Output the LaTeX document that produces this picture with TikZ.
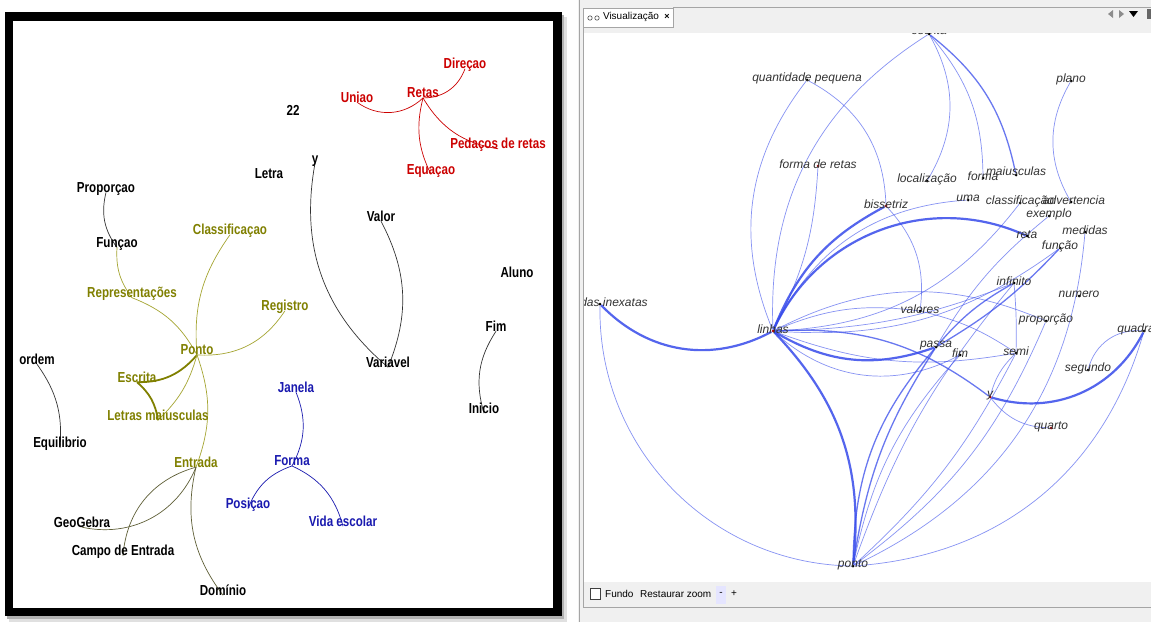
\documentclass[tikz,border=0pt]{standalone}
\usepackage{fontspec}
\setmainfont{Liberation Sans}
\newfontfamily\narrowsans[FakeStretch=0.8]{Liberation Sans}
\usepackage{tikz}
\usetikzlibrary{calc}

\definecolor{redtxt}{RGB}{204,0,0}
\definecolor{olivetxt}{RGB}{128,128,0}
\definecolor{oliveedge}{RGB}{165,165,50}
\definecolor{darkolive}{RGB}{95,95,55}
\definecolor{bluetxt}{RGB}{25,25,175}
\definecolor{edgeblue}{RGB}{55,75,235}
\definecolor{panelgray}{RGB}{240,240,240}
\definecolor{linegray}{RGB}{165,165,165}

\pgfdeclarelayer{bg}
\pgfdeclarelayer{edges}
\pgfsetlayers{bg,edges,main}

\begin{document}
\begin{tikzpicture}[x=1pt,y=-1pt,
            left-node/.style={font=\narrowsans\bfseries\fontsize{14.5}{16}\selectfont,inner sep=0pt},
            red-node/.style={left-node,text=redtxt},
            olive-node/.style={left-node,text=olivetxt},
            blue-node/.style={left-node,text=bluetxt},
            red-link/.style={draw=redtxt,line width=0.7pt},
            olive-link/.style={draw=oliveedge,line width=0.7pt},
            black-link/.style={draw=black!80,line width=0.7pt},
            blue-link/.style={draw=bluetxt,line width=0.7pt},
            dot-node/.style={circle,fill=black,inner sep=0pt,minimum size=3pt},
            red-dot/.style={dot-node,fill=red!70!black},
            word/.style={font=\itshape\fontsize{12}{14}\selectfont,text=black!80,inner sep=0pt,yshift=1.5pt},
            thin-edge/.style={draw=edgeblue,line width=0.7pt,opacity=0.6},
            mid-edge/.style={draw=edgeblue,line width=1.3pt,opacity=0.75},
            thick-edge/.style={draw=edgeblue,line width=2.2pt,opacity=0.85},
            ui-text/.style={font=\fontsize{10}{12}\selectfont,inner sep=0pt},
        ]
            \useasboundingbox (0,0) rectangle (1151,622);

            % backgrounds and frames
            \begin{pgfonlayer}{bg}
                \fill[white] (0,0) rectangle (1151,622);
                \fill[black!12] (9,17) rectangle (567,622);
                \fill[black!30] (7,15) rectangle (564,619);
                \fill[black] (5,12) rectangle (562,616);
                \fill[white] (13,21) rectangle (553,608);
                \fill[panelgray] (578,0) rectangle (1151,622);
                \fill[white] (583,33) rectangle (1151,582);
            \end{pgfonlayer}

            % left panel: word clusters
            \node[red-node] (direcao) at (465,65) {Direçao};
            \node[red-node] (uniao) at (357,97) {Uniao};
            \node[red-node] (retas) at (423,93) {Retas};
            \node[red-node] (pedacos) at (498,145) {Pedaços de retas};
            \node[red-node] (equacao) at (431,171) {Equaçao};

            \node[left-node] (n22) at (293,110) {22};
            \node[left-node] (yy) at (315,161) {y};
            \node[left-node] (letra) at (269,174) {Letra};
            \node[left-node] (valor) at (381,216) {Valor};
            \node[left-node] (variavel) at (388,362) {Variavel};
            \node[left-node] (aluno) at (517,272) {Aluno};
            \node[left-node] (fimL) at (496,326) {Fim};
            \node[left-node] (inicio) at (484,408) {Inicio};
            \node[left-node] (proporcaoL) at (106,189) {Proporçao};
            \node[left-node] (funcaoL) at (117,244) {Funçao};
            \node[left-node] (ordem) at (37,359) {ordem};
            \node[left-node] (equilibrio) at (60,444) {Equilibrio};
            \node[left-node] (geogebra) at (82,522) {GeoGebra};
            \node[left-node] (campo) at (123,552) {Campo de Entrada};
            \node[left-node] (dominio) at (223,590) {Domínio};

            \node[olive-node] (classif) at (230,231) {Classificaçao};
            \node[olive-node] (repres) at (132,294) {Representações};
            \node[olive-node] (registro) at (285,307) {Registro};
            \node[olive-node] (pontoL) at (197,350) {Ponto};
            \node[olive-node] (escritaL) at (137,377) {Escrita};
            \node[olive-node] (letras) at (158,415) {Letras maiusculas};
            \node[olive-node] (entrada) at (196,462) {Entrada};

            \node[blue-node] (janela) at (296,387) {Janela};
            \node[blue-node] (forma) at (292,461) {Forma};
            \node[blue-node] (posicao) at (248,505) {Posiçao};
            \node[blue-node] (vida) at (343,521) {Vida escolar};

            \begin{pgfonlayer}{edges}
                \draw[red-link] (retas.base) to[bend left=40] (uniao.base);
                \draw[red-link] (retas.base) to[bend right=35] (direcao.base);
                \draw[red-link] (retas.base) to[bend right=25] (pedacos.base);
                \draw[red-link] (retas.base) to[bend right=20] (equacao.base);

                \draw[black-link] (yy.base) to[bend right=30] (variavel.base);
                \draw[black-link] (valor.base) to[bend left=25] (variavel.base);
                \draw[black-link] (proporcaoL.base) to[bend right=25] (funcaoL.base);
                \draw[black-link] (ordem.base) to[bend left=20] (equilibrio.base);
                \draw[black-link] (fimL.base) to[bend right=25] (inicio.base);

                \draw[olive-link] (funcaoL.base) to[bend right=20] (repres.base);
                \draw[olive-link] (repres.base) to[bend left=20] (pontoL.base);
                \draw[olive-link] (classif.base) to[bend right=20] (pontoL.base);
                \draw[olive-link] (registro.base) to[bend left=30] (pontoL.base);
                \draw[olive-link,draw=olivetxt,line width=1.8pt] (pontoL.base) to[bend left=25] (escritaL.base);
                \draw[olive-link,draw=olivetxt,line width=1.8pt] (escritaL.base) to[bend left=20] (letras.base);
                \draw[olive-link] (pontoL.base) to[bend left=15] (letras.base);
                \draw[olive-link] (pontoL.base) to[bend left=20] (entrada.base);
                \draw[olive-link,draw=darkolive] (entrada.base) to[bend left=40] (geogebra.base);
                \draw[olive-link,draw=darkolive] (entrada.base) to[bend right=35] (campo.base);
                \draw[olive-link,draw=darkolive] (entrada.base) to[bend right=25] (dominio.base);

                \draw[blue-link] (janela.base) to[bend left=25] (forma.base);
                \draw[blue-link] (forma.base) to[bend right=25] (posicao.base);
                \draw[blue-link] (forma.base) to[bend left=25] (vida.base);
            \end{pgfonlayer}

            % right panel: graph of terms
            \begin{scope}
                \clip (583,33) rectangle (1151,582);
                \node[dot-node,label={[word,yshift=2pt]center:escrita}] (escrita) at (929,34) {};
                \node[dot-node,label={[word]center:quantidade pequena}] (qpequena) at (807,80) {};
                \node[dot-node,label={[word]center:plano}] (plano) at (1071,81) {};
                \node[red-dot,label={[word]center:forma de retas}] (fretas) at (818,166) {};
                \node[dot-node,label={[word]center:localização}] (localiz) at (927,181) {};
                \node[dot-node,label={[word]center:forma}] (formaR) at (983,178) {};
                \node[dot-node,label={[word,yshift=2pt]center:maiusculas}] (maiusc) at (1016,175) {};
                \node[dot-node,label={[word]center:uma}] (uma) at (968,200) {};
                \node[dot-node,label={[word]center:classificação}] (classifR) at (1020,203) {};
                \node[dot-node,label={[word,xshift=3pt]center:advertencia}] (advert) at (1071,202) {};
                \node[red-dot,label={[word]center:bissetriz}] (bissetriz) at (886,206) {};
                \node[dot-node,label={[word]center:exemplo}] (exemplo) at (1049,216) {};
                \node[dot-node,label={[word]center:medidas}] (medidas) at (1085,232) {};
                \node[dot-node,label={[word]center:reta}] (reta) at (1027,236) {};
                \node[dot-node,label={[word]center:função}] (funcaoR) at (1060,248) {};
                \node[dot-node,label={[word]center:infinito}] (infinito) at (1014,283) {};
                \node[dot-node,label={[word]center:numero}] (numero) at (1079,296) {};
                \node[dot-node,label={[word]center:valores}] (valores) at (920,311) {};
                \node[dot-node,label={[word]center:proporção}] (proporcaoR) at (1046,321) {};
                \node[red-dot,label={[word]center:linhas}] (linhas) at (773,331) {};
                \node[dot-node,label={[word,xshift=-8pt]center:quadra}] (quadra) at (1144,331) {};
                \node[dot-node,label={[word]center:passa}] (passa) at (936,347) {};
                \node[dot-node,label={[word]center:fim}] (fimR) at (960,355) {};
                \node[dot-node,label={[word]center:semi}] (semi) at (1016,353) {};
                \node[dot-node,label={[word]center:segundo}] (segundo) at (1088,370) {};
                \node[red-dot,label={[word]center:y}] (yR) at (990,397) {};
                \node[red-dot,label={[word]center:quarto}] (quarto) at (1051,428) {};
                \node[dot-node,label={[word,xshift=14pt]center:das inexatas}] (inexatas) at (600,304) {};
                \node[dot-node,label={[word]center:ponto}] (pontoR) at (853,566) {};
            \end{scope}

            \begin{pgfonlayer}{edges}
                \begin{scope}
                    \clip (583,33) rectangle (1151,582);
                    \draw[thin-edge] (linhas) to[bend left=30] (escrita);
                    \draw[thin-edge] (linhas) to[bend left=30] (qpequena);
                    \draw[thin-edge] (linhas) to[bend right=12] (fretas);
                    \draw[thin-edge] (linhas) to[bend left=30] (uma);
                    \draw[thin-edge] (linhas) to[bend right=25] (classifR);
                    \draw[thin-edge] (linhas) to[bend right=20] (funcaoR);
                    \draw[thin-edge] (linhas) to[bend right=10] (infinito);
                    \draw[thin-edge] (linhas) to[bend left=15] (valores);
                    \draw[thin-edge] (linhas) to[bend left=25] (proporcaoR);
                    \draw[thin-edge] (linhas) to[bend right=35] (fimR);
                    \draw[thin-edge] (linhas) to[bend right=15] (semi);
                    \draw[thin-edge] (inexatas) to[bend right=45] (pontoR);
                    \draw[thin-edge] (qpequena) to[bend left=30] (bissetriz);
                    \draw[thin-edge] (escrita) to[bend left=30] (localiz);
                    \draw[thin-edge] (escrita) to[bend left=20] (formaR);
                    \draw[mid-edge] (escrita) to[bend left=20] (maiusc);
                    \draw[thin-edge] (plano) to[bend right=30] (advert);
                    \draw[thin-edge] (bissetriz) to[bend left=25] (valores);
                    \draw[thin-edge] (valores) to[bend left=10] (semi);
                    \draw[thin-edge] (infinito) to[bend left=3] (semi);
                    \draw[thin-edge] (infinito) to[bend right=10] (pontoR);
                    \draw[thin-edge] (exemplo) to[bend right=10] (passa);
                    \draw[thin-edge] (pontoR) to[bend right=30] (medidas);
                    \draw[thin-edge] (pontoR) to[bend right=15] (proporcaoR);
                    \draw[thin-edge] (pontoR) to[bend right=10] (semi);
                    \draw[thin-edge] (pontoR) to[bend left=15] (fimR);
                    \draw[thin-edge] (pontoR) to[bend right=35] (quadra);
                    \draw[thin-edge] (segundo) to[bend left=40] (quadra);
                    \draw[thin-edge] (yR) to[bend right=25] (quarto);
                    \draw[thin-edge] (semi) to[bend right=15] (yR);
                    \draw[mid-edge] (passa) to[bend left=10] (infinito);
                    \draw[mid-edge] (passa) to[bend right=8] (funcaoR);
                    \draw[mid-edge] (linhas) to[bend left=20] (yR);
                    \draw[mid-edge] (pontoR) to[bend left=20] (passa);
                    \draw[mid-edge] (pontoR) to[bend left=12] (passa);
                    \draw[thick-edge] (linhas) to[bend left=20] (bissetriz);
                    \draw[thick-edge] (linhas) to[bend left=45] (reta);
                    \draw[thick-edge] (linhas) to[bend right=25] (passa);
                    \draw[thick-edge] (linhas) to[bend left=37] (inexatas);
                    \draw[thick-edge] (linhas) to[bend left=25] (pontoR);
                    \draw[thick-edge] (yR) to[bend right=40] (quadra);
                \end{scope}
            \end{pgfonlayer}

            % window header and footer
            \fill[panelgray] (583,0) rectangle (1151,33);
            \draw[linegray] (673,7.5) -- (1151,7.5);
            \filldraw[fill=white,draw=linegray] (583,8) rectangle (673,27);
            \draw[black!70,line width=0.6pt] (590,18) circle (2.2) (597,18) circle (2.2);
            \node[ui-text] (tabtitle) at (631,17) {Visualização};
            \node[ui-text,font=\bfseries\fontsize{9}{10}\selectfont] (tabclose) at (667,17) {×};
            \fill[black!45] (1108,14) -- (1113,10) -- (1113,18) -- cycle;
            \fill[black!45] (1119,10) -- (1124,14) -- (1119,18) -- cycle;
            \fill[black] (1129,11) -- (1138,11) -- (1133.5,17) -- cycle;
            \fill[black!60] (1147,9) rectangle (1151,19);

            \fill[panelgray] (583,582) rectangle (1151,607);
            \draw[linegray] (579,0) -- (579,622);
            \draw[linegray] (583,8) -- (583,607) -- (1151,607);
            \draw[black!75,fill=white] (590,588) rectangle (600,599);
            \node[ui-text,anchor=west] (fundo) at (605,594) {Fundo};
            \node[ui-text,anchor=west] (restaurar) at (640,594) {Restaurar zoom};
            \fill[blue!10] (716,586) rectangle (726,604);
            \node[ui-text] (menos) at (721,594) {-};
            \node[ui-text] (mais) at (734,594) {+};
        \end{tikzpicture}
\end{document}
